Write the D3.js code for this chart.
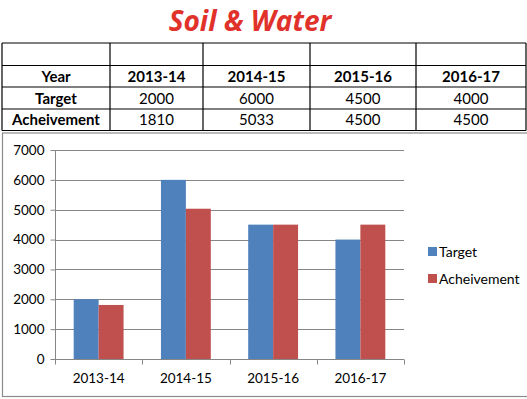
<!DOCTYPE html>
<html><head><meta charset="utf-8">
<script src="https://cdn.jsdelivr.net/npm/d3@7"></script>
<style>body{margin:0;background:#fff}svg{display:block}</style>
</head><body>
<svg id="c" width="527" height="399"></svg>
<script>
const categories = ["2013-14","2014-15","2015-16","2016-17"];
const target = [2000,6000,4500,4000];
const achievement = [1810,5033,4500,4500];
const seriesNames = ["Target","Acheivement"];
const yTicks = [0,1000,2000,3000,4000,5000,6000,7000];
const colors = ["#4F81BD","#C0504D"];

const svg = d3.select("#c");
const F = "Lato, 'Open Sans', sans-serif";

// Title
svg.append("text").attr("x",250).attr("y",31).attr("text-anchor","middle")
  .attr("font-family","'Open Sans', sans-serif").attr("font-weight","bold").attr("font-style","italic")
  .attr("font-size",28).attr("fill","#E0322B").text("Soil & Water");

// Table
const colX = [2,110,203,310,416,526];
const rowY = [43,65.5,87,109,130.5];
const tg = svg.append("g");
rowY.forEach(y=>tg.append("line").attr("x1",colX[0]).attr("x2",colX[5]).attr("y1",y).attr("y2",y).attr("stroke","#000").attr("stroke-width",1.2));
colX.forEach(x=>tg.append("line").attr("x1",x).attr("x2",x).attr("y1",rowY[0]).attr("y2",rowY[4]).attr("stroke","#000").attr("stroke-width",1.2));
const rows = [["Year",...categories],["Target",...target.map(String)],["Acheivement",...achievement.map(String)]];
rows.forEach((r,ri)=>{
  r.forEach((t,ci)=>{
    tg.append("text").attr("x",(colX[ci]+colX[ci+1])/2).attr("y",(rowY[ri+1]+rowY[ri+2])/2+5.5)
      .attr("text-anchor","middle").attr("font-family",F).attr("font-size",15)
      .attr("font-weight",(ri===0||ci===0)?"bold":"normal").attr("fill","#000").text(t);
  });
});

// Chart frame
svg.append("rect").attr("x",2.5).attr("y",133).attr("width",540).attr("height",263.5)
  .attr("fill","none").attr("stroke","#8c8c8c").attr("stroke-width",1.2);

const x0 = d3.scaleBand().domain(categories).range([55,404]).paddingInner(0).paddingOuter(0);
const bw = x0.bandwidth()/3.5;
const y = d3.scaleLinear().domain([0,7000]).range([359,150]);

// gridlines
svg.append("g").selectAll("line").data(yTicks.slice(1)).join("line")
  .attr("x1",55).attr("x2",404).attr("y1",d=>Math.round(y(d))+0.5).attr("y2",d=>Math.round(y(d))+0.5)
  .attr("stroke","#868686").attr("stroke-width",1);

// bars
const data = categories.map((c,i)=>({c, v:[target[i],achievement[i]]}));
const bars = svg.append("g");
data.forEach(d=>{
  d.v.forEach((v,si)=>{
    bars.append("rect").attr("x",x0(d.c)+bw*0.75+si*bw).attr("width",bw)
      .attr("y",y(v)).attr("height",y(0)-y(v)).attr("fill",colors[si]);
  });
});

// y axis
const ya = svg.append("g").attr("transform","translate(55.5,0)")
  .call(d3.axisLeft(y).tickValues(yTicks).tickSize(5).tickPadding(6).tickFormat(d3.format("d")));
ya.select(".domain").attr("stroke","#868686").attr("d","M0,"+y(7000)+"V"+y(0));
ya.selectAll(".tick line").attr("stroke","#868686");
ya.selectAll("text").attr("font-family",F).attr("font-size",13.5).attr("fill","#000");

// x axis
const xa = svg.append("g").attr("transform","translate(0,"+(Math.round(y(0))+0.5)+")")
  .call(d3.axisBottom(x0).tickSize(0).tickPadding(14));
xa.select(".domain").attr("stroke","#868686").attr("d","M55,0H404");
xa.selectAll(".tick line").remove();
xa.selectAll("text").attr("font-family",F).attr("font-size",13.5).attr("fill","#000");
const edges = categories.map(c=>x0(c)).concat([404]);
svg.append("g").selectAll("line").data(edges).join("line")
  .attr("x1",d=>Math.round(d)+0.5).attr("x2",d=>Math.round(d)+0.5)
  .attr("y1",Math.round(y(0))+0.5).attr("y2",Math.round(y(0))+5.5).attr("stroke","#868686");

// legend
const lg = svg.append("g");
seriesNames.forEach((n,i)=>{
  const ly = 252 + i*27;
  lg.append("rect").attr("x",428).attr("y",ly-5).attr("width",9).attr("height",9).attr("fill",colors[i]);
  lg.append("text").attr("x",439).attr("y",ly+5).attr("font-family",F).attr("font-size",14).attr("fill","#000").text(n);
});
</script>
</body></html>
